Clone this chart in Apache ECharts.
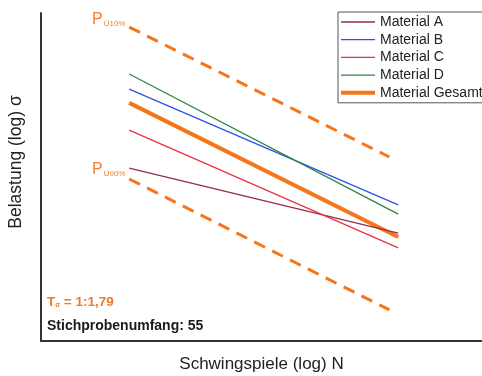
<!DOCTYPE html>
<html>
<head>
<meta charset="utf-8">
<script src="https://cdn.jsdelivr.net/npm/echarts@6/dist/echarts.min.js"></script>
<style>
  html, body { margin: 0; padding: 0; background: #fff; }
  #chart { width: 482px; height: 376px; }
</style>
</head>
<body>
<div id="chart"></div>
<script>
// Wöhlerlinien, log-log Achsen ohne Skala (Werte in willkürlichen Einheiten 0..100)
const lineX = [20, 81];
const bandX = [20, 79];

const materialA = [52.7, 32.9];
const materialB = [76.8, 41.5];
const materialC = [64.3, 28.4];
const materialD = [81.4, 38.7];
const materialGesamt = [72.6, 31.7];

const pU10 = [95.7, 56.1];
const pU90 = [49.4, 9.5];

const seriesNames = ['Material A', 'Material B', 'Material C', 'Material D', 'Material Gesamt'];
const seriesColors = ['#9a2c40', '#2d52e6', '#e8323e', '#2f8242', '#f5761a'];

const toPoints = (xs, ys) => xs.map((x, i) => [x, ys[i]]);

const chart = echarts.init(document.getElementById('chart'));

const matData = [materialA, materialB, materialC, materialD, materialGesamt];
const lineWidth = (i) => (i === 4 ? 4 : 1.3);

const series = matData.map((ys, i) => ({
  name: seriesNames[i],
  type: 'line',
  data: toPoints(lineX, ys),
  symbol: 'none',
  silent: true,
  z: i === 4 ? 3 : 4,
  lineStyle: { color: seriesColors[i], width: lineWidth(i) },
  itemStyle: { color: seriesColors[i] },
}));

// Streubänder
[pU10, pU90].forEach((ys) => {
  series.push({
    type: 'line',
    data: toPoints(bandX, ys),
    symbol: 'none',
    silent: true,
    lineStyle: { color: '#f5761a', width: 3, type: [12, 8], cap: 'butt' },
  });
});

chart.setOption({
  animation: false,
  grid: { left: 41, right: 0, top: 13, bottom: 35, outerBoundsMode: 'none' },
  xAxis: {
    type: 'value',
    min: 0,
    max: 100,
    axisLine: { show: true, lineStyle: { color: '#333', width: 2 } },
    axisTick: { show: false },
    axisLabel: { show: false },
    splitLine: { show: false },
    name: 'Schwingspiele (log) N',
    nameLocation: 'middle',
    nameGap: 15,
    nameTextStyle: { fontFamily: 'Liberation Sans', fontSize: 17, color: '#222' },
  },
  yAxis: {
    type: 'value',
    min: 0,
    max: 100,
    axisLine: { show: true, lineStyle: { color: '#333', width: 2 } },
    axisTick: { show: false },
    axisLabel: { show: false },
    splitLine: { show: false },
  },
  legend: {
    data: seriesNames.map((name, i) => ({ name, lineStyle: { width: lineWidth(i) } })),
    orient: 'vertical',
    left: 338,
    top: 12,
    padding: [3, 12, 3, 1],
    itemWidth: 34,
    itemHeight: 14,
    itemGap: 3.7,
    itemStyle: { opacity: 0 },
    borderColor: '#555',
    borderWidth: 1,
    selectedMode: false,
    textStyle: { fontFamily: 'Liberation Sans', fontSize: 14, color: '#222' },
  },
  graphic: [
    {
      type: 'text',
      x: 16,
      y: 162,
      rotation: Math.PI / 2,
      style: {
        text: 'Belastung (log) σ',
        font: '17.5px "Liberation Sans"',
        fill: '#222',
        align: 'center',
        verticalAlign: 'middle',
      },
    },
    {
      type: 'text',
      x: 92,
      y: 28,
      style: {
        text: '{p|P}{s|Ü10%}',
        verticalAlign: 'bottom',
        rich: {
          p: { font: '16px "Liberation Sans"', fill: '#f28030' },
          s: { font: '8px "Liberation Sans"', fill: '#f28030', padding: [7, 0, 0, 1] },
        },
      },
    },
    {
      type: 'text',
      x: 92,
      y: 178,
      style: {
        text: '{p|P}{s|Ü90%}',
        verticalAlign: 'bottom',
        rich: {
          p: { font: '16px "Liberation Sans"', fill: '#f28030' },
          s: { font: '8px "Liberation Sans"', fill: '#f28030', padding: [7, 0, 0, 1] },
        },
      },
    },
    {
      type: 'text',
      x: 47,
      y: 309,
      style: {
        text: '{t|T}{s|σ}{t| = 1:1,79}',
        verticalAlign: 'bottom',
        rich: {
          t: { font: 'bold 13.5px "Liberation Sans"', fill: '#f0782a' },
          s: { font: 'bold 7px "Liberation Sans"', fill: '#f0782a', padding: [7, 0, 0, 0] },
        },
      },
    },
    {
      type: 'text',
      x: 47,
      y: 333,
      style: {
        text: 'Stichprobenumfang: 55',
        font: 'bold 14px "Liberation Sans"',
        fill: '#1a1a1a',
        verticalAlign: 'bottom',
      },
    },
  ],
  series: series,
});
</script>
</body>
</html>
